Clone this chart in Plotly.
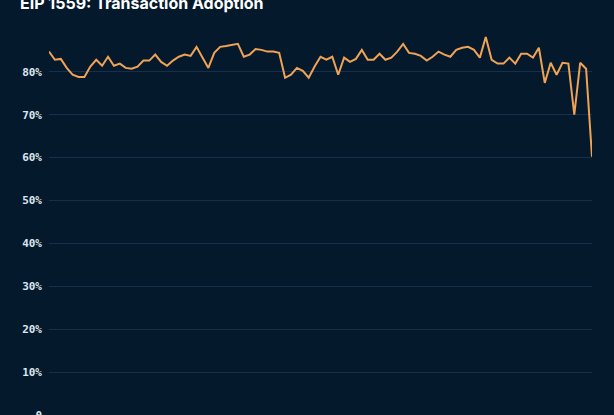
import plotly.graph_objects as go
import pandas as pd

# Daily share of transactions using EIP-1559 (type 2), in percent
adoption_pct = [
    84.7, 82.8, 83.0, 80.9, 79.3, 78.8, 78.8, 81.2, 82.8, 81.4,
    83.5, 81.4, 81.9, 80.9, 80.7, 81.2, 82.6, 82.6, 84.0, 82.3,
    81.4, 82.6, 83.5, 84.0, 83.7, 85.8, 83.3, 80.9, 84.4, 85.8,
    86.0, 86.3, 86.5, 83.5, 84.0, 85.3, 85.1, 84.7, 84.7, 84.4,
    78.6, 79.3, 80.9, 80.2, 78.6, 81.2, 83.5, 82.8, 83.5, 79.3,
    83.3, 82.3, 83.0, 85.1, 82.8, 82.8, 84.2, 82.8, 83.3, 84.7,
    86.5, 84.4, 84.2, 83.7, 82.6, 83.5, 84.7, 84.0, 83.5, 85.1,
    85.6, 85.8, 85.1, 83.3, 88.1, 82.8, 81.9, 81.9, 83.3, 81.9,
    84.2, 84.2, 83.3, 85.6, 77.4, 82.1, 79.3, 82.1, 81.9, 70.0,
    82.1, 80.7, 60.2,
]
dates = pd.date_range("2021-08-05", periods=len(adoption_pct), freq="D")

tick_values = [0, 10, 20, 30, 40, 50, 60, 70, 80]
tick_labels = ["0", "10%", "20%", "30%", "40%", "50%", "60%", "70%", "80%"]
title_text = "EIP 1559: Transaction Adoption"

BG = "#04192c"
GRID = "#15304a"

fig = go.Figure()
fig.add_trace(go.Scatter(
    x=dates, y=adoption_pct, mode="lines",
    line=dict(color="#f0a255", width=2),
    hoverinfo="skip",
))

fig.update_layout(
    width=614, height=415,
    paper_bgcolor=BG, plot_bgcolor=BG,
    margin=dict(l=49, r=22, t=31, b=0),
    showlegend=False,
    title=dict(
        text=title_text, x=20 / 614, xanchor="left",
        y=1 - 3 / 415, yanchor="middle",
        font=dict(family="Inter, Roboto, sans-serif", size=16, color="#ffffff", weight="bold"),
    ),
    xaxis=dict(
        visible=False, range=[dates[0], dates[-1]], automargin=False,
    ),
    yaxis=dict(
        range=[0, 89.5], automargin=False,
        tickvals=tick_values, ticktext=tick_labels,
        showgrid=True, gridcolor=GRID, gridwidth=1,
        zeroline=False, showline=False, ticks="",
        ticklabelstandoff=6, ticklabeloverflow="allow",
        tickfont=dict(family="DejaVu Sans Mono, monospace", size=11, color="#dfe6ee", weight="bold"),
    ),
)

fig.write_html(
    "out.html",
    config={"displayModeBar": False},
    post_script="document.body.style.margin='0';document.body.style.background='%s';" % BG,
)
